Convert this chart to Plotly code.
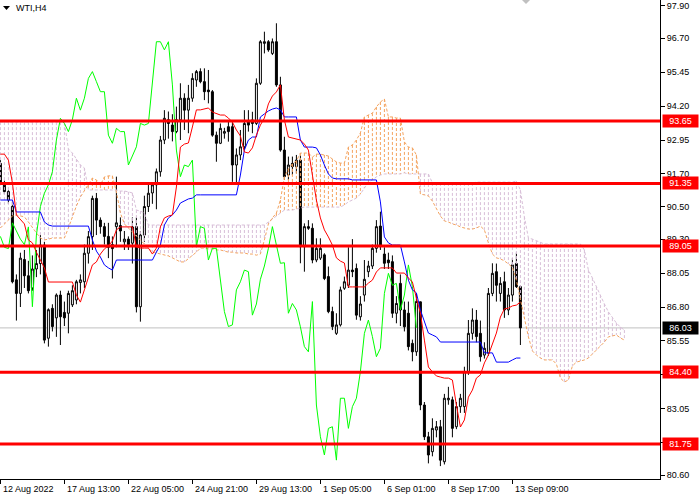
import plotly.graph_objects as go

# ---------------- data ----------------
symbol_title = "WTI,H4"
date_labels = ["12 Aug 2022", "17 Aug 13:00", "22 Aug 05:00", "24 Aug 21:00", "29 Aug 13:00",
               "1 Sep 05:00", "6 Sep 01:00", "8 Sep 17:00", "13 Sep 09:00"]
date_label_bars = [0, 16, 32, 48, 64, 80, 96, 112, 128]

price_ticks = [97.90, 96.70, 95.45, 94.20, 92.95, 91.70, 90.50, 89.30, 88.05, 86.80,
               85.55, 84.30, 83.05, 81.80, 80.60]
levels = [93.65, 91.35, 89.05, 84.40, 81.75]
last_price = 86.03
chikou_shift = 26

open_ = [92.09, 91.35, 91.05, 90.50, 87.80, 87.30, 88.55, 87.95, 87.50, 88.20,
         88.40, 89.08, 85.65, 86.75, 86.40, 87.24, 86.60, 86.57, 86.88, 87.06,
         87.70, 87.73, 88.78, 89.39, 90.80, 90.00, 89.76, 89.40, 89.10, 89.76,
         89.80, 89.20, 89.30, 89.15, 89.76, 86.81, 89.45, 90.50, 91.00, 91.30,
         91.78, 92.95, 93.70, 93.50, 93.26, 93.69, 94.49, 94.05, 94.49, 95.16,
         95.47, 95.10, 94.79, 94.73, 93.13, 92.83, 93.20, 93.44, 93.44, 92.03,
         92.40, 92.70, 93.62, 93.69, 93.56, 95.04, 96.51, 96.57, 96.14, 96.57,
         94.98, 92.58, 91.66, 92.09, 91.97, 92.21, 89.02, 89.76, 89.70, 88.53,
         88.60, 88.72, 87.92, 86.63, 85.83, 86.14, 87.49, 87.60, 88.16, 88.22,
         86.44, 87.24, 88.10, 88.31, 88.96, 89.78, 88.75, 88.53, 88.47, 86.57,
         87.67, 86.69, 86.57, 85.46, 85.15, 86.99, 83.19, 82.02, 81.47, 82.27,
         82.39, 81.10, 83.38, 83.38, 82.39, 83.13, 83.13, 84.42, 85.83, 86.32,
         85.83, 85.03, 85.10, 87.30, 88.10, 87.30, 87.73, 86.69, 87.24, 88.40,
         87.55]
high = [92.21, 91.45, 91.10, 90.68, 88.00, 88.80, 88.90, 88.50, 88.70, 88.90,
        89.45, 89.20, 86.75, 86.90, 87.30, 87.40, 87.00, 87.40, 87.60, 87.80,
        88.00, 89.10, 89.60, 90.90, 91.00, 90.10, 89.90, 89.90, 89.40, 91.60,
        90.10, 89.60, 89.40, 90.10, 90.10, 89.60, 90.90, 91.30, 91.40, 91.90,
        93.10, 94.05, 94.00, 93.90, 94.18, 95.04, 94.67, 94.98, 95.41, 95.53,
        95.59, 95.59, 95.53, 94.79, 93.26, 93.56, 93.40, 93.63, 93.63, 92.64,
        93.32, 94.05, 94.05, 93.99, 95.22, 96.63, 96.94, 96.63, 96.69, 97.25,
        95.28, 93.07, 92.34, 92.34, 92.40, 92.40, 89.88, 90.00, 89.88, 89.33,
        89.33, 88.78, 88.29, 86.81, 86.57, 87.55, 87.92, 89.00, 89.30, 88.40,
        87.20, 88.53, 88.50, 89.10, 90.00, 90.31, 89.00, 88.80, 88.70, 87.20,
        88.00, 87.00, 87.00, 85.60, 87.30, 87.00, 83.30, 82.20, 82.70, 82.60,
        82.64, 83.60, 83.86, 83.50, 83.30, 83.60, 84.60, 86.32, 86.75, 86.69,
        86.30, 85.50, 87.50, 88.41, 88.40, 87.90, 88.10, 87.50, 88.60, 88.80,
        87.60]
low = [91.29, 90.95, 90.60, 87.67, 86.30, 86.80, 87.50, 87.30, 87.40, 87.90,
       88.00, 85.46, 85.34, 85.90, 85.70, 85.40, 86.10, 85.83, 86.80, 86.90,
       87.30, 87.50, 88.40, 88.90, 89.45, 89.50, 89.10, 88.60, 87.85, 89.00,
       89.20, 88.90, 88.90, 88.40, 86.60, 86.26, 89.20, 90.30, 90.60, 90.40,
       91.60, 92.80, 93.00, 92.90, 93.20, 92.95, 93.32, 93.20, 94.36, 94.91,
       95.04, 94.42, 94.30, 93.07, 92.15, 92.80, 93.00, 92.89, 91.41, 91.35,
       92.21, 92.58, 93.26, 93.20, 93.50, 94.98, 96.14, 96.20, 96.08, 94.91,
       92.52, 91.48, 91.48, 91.66, 91.72, 88.41, 88.10, 89.64, 88.41, 88.45,
       88.53, 87.79, 86.57, 85.95, 85.77, 86.08, 87.43, 87.50, 87.90, 86.33,
       86.30, 87.00, 87.90, 88.20, 88.80, 88.90, 88.20, 88.20, 86.40, 86.20,
       86.10, 85.90, 85.20, 84.80, 85.00, 83.00, 81.90, 81.04, 81.30, 82.00,
       80.94, 81.00, 83.20, 82.00, 82.30, 82.90, 82.90, 84.30, 85.60, 85.50,
       84.79, 84.90, 85.00, 87.20, 87.00, 87.00, 86.40, 86.50, 87.00, 87.50,
       85.40]
close = [91.35, 91.05, 90.74, 87.73, 87.30, 88.60, 87.95, 87.40, 88.20, 88.40,
         89.08, 85.58, 86.70, 86.08, 87.24, 86.44, 86.40, 87.30, 87.40, 87.73,
         87.80, 88.78, 89.39, 90.80, 90.00, 89.76, 89.40, 89.00, 88.95, 89.90,
         89.60, 89.30, 89.10, 89.75, 86.81, 89.45, 90.50, 90.99, 91.30, 91.78,
         92.95, 93.75, 93.56, 93.26, 93.70, 94.49, 94.05, 94.49, 95.22, 95.47,
         95.10, 94.73, 94.73, 93.13, 92.83, 93.38, 93.26, 93.26, 92.03, 92.40,
         92.70, 93.56, 93.50, 93.56, 95.04, 96.57, 96.57, 96.27, 96.57, 94.98,
         92.58, 91.60, 92.03, 91.97, 92.21, 89.02, 89.76, 89.70, 88.53, 88.96,
         88.96, 87.85, 86.63, 86.08, 86.14, 87.43, 87.73, 88.16, 88.10, 86.50,
         86.91, 87.82, 88.31, 88.96, 89.76, 89.08, 88.41, 88.43, 86.57, 86.93,
         86.69, 86.07, 85.34, 85.15, 87.00, 83.19, 82.02, 81.35, 82.33, 82.39,
         81.16, 83.44, 83.44, 82.33, 83.13, 83.44, 84.42, 85.83, 86.32, 85.71,
         84.97, 85.28, 87.30, 88.04, 87.60, 87.67, 86.69, 87.24, 88.35, 87.55,
         86.03]

tenkan = [92.43, 92.43, 92.21, 91.37, 90.19, 90.04, 89.86, 89.27, 89.16, 88.82,
          88.53, 88.24, 87.72, 87.72, 87.72, 87.72, 87.72, 87.72, 87.72, 87.24,
          86.98, 87.43, 87.87, 88.35, 88.46, 88.75, 88.94, 89.05, 89.23, 89.64,
          89.75, 89.75, 89.75, 89.75, 89.01, 88.97, 88.97, 88.97, 88.75, 88.97,
          89.75, 90.08, 90.15, 90.19, 91.22, 92.69, 92.80, 92.84, 93.43, 94.06,
          94.06, 94.09, 94.13, 93.98, 93.91, 93.87, 93.87, 93.76, 93.61, 93.32,
          93.10, 92.51, 92.47, 92.66, 93.13, 93.50, 93.76, 94.28, 94.57, 94.72,
          94.98, 93.69, 93.06, 93.02, 92.99, 92.95, 92.80, 92.58, 91.66, 90.74,
          90.08, 89.64, 89.38, 89.08, 88.61, 88.49, 88.42, 87.54, 87.54, 87.54,
          87.54, 87.54, 87.68, 87.79, 88.09, 88.24, 88.24, 88.24, 88.24, 88.05,
          88.05, 88.05, 87.87, 87.72, 87.13, 86.58, 85.58, 84.59, 84.41, 84.26,
          84.22, 84.18, 84.18, 84.11, 83.19, 82.38, 82.64, 83.48, 83.74, 84.18,
          84.30, 84.74, 85.03, 85.40, 85.84, 86.43, 86.73, 86.76, 86.84, 86.87,
          86.98]
kijun = [90.74, 90.74, 90.74, 90.74, 90.30, 90.30, 90.30, 90.30, 90.30, 90.30,
         90.30, 89.93, 89.82, 89.78, 89.78, 89.78, 89.78, 89.78, 89.78, 89.78,
         89.78, 89.78, 89.78, 89.27, 88.86, 88.64, 88.35, 88.24, 88.16, 88.53,
         88.53, 88.53, 88.53, 88.53, 88.53, 88.53, 88.53, 88.53, 88.53, 88.82,
         89.08, 89.82, 90.08, 90.19, 90.37, 90.63, 90.70, 90.78, 90.81, 90.93,
         90.93, 90.93, 90.93, 90.93, 90.93, 90.93, 90.93, 90.93, 90.93, 90.93,
         91.66, 92.58, 92.95, 93.06, 93.06, 93.80, 93.91, 94.02, 94.09, 94.13,
         94.06, 93.80, 93.80, 93.80, 93.80, 92.95, 92.69, 92.69, 92.69, 92.66,
         92.40, 92.03, 91.70, 91.55, 91.52, 91.52, 91.52, 91.52, 91.48, 91.48,
         91.48, 91.48, 91.48, 91.48, 91.48, 90.67, 89.38, 89.16, 89.08, 89.08,
         89.08, 88.46, 87.79, 87.43, 87.32, 86.69, 86.25, 85.84, 85.77, 85.70,
         85.51, 85.51, 85.51, 85.51, 85.51, 85.51, 85.51, 85.51, 85.51, 85.51,
         85.51, 85.11, 85.11, 85.11, 84.77, 84.77, 84.77, 84.77, 84.85, 84.92,
         84.92]
span_a = [89.71, 89.86, 90.00, 90.15, 90.19, 90.15, 90.12, 89.93, 89.71, 89.53,
          89.34, 89.27, 89.30, 89.34, 89.34, 89.34, 89.34, 89.71, 90.12, 90.52,
          90.85, 91.07, 91.29, 91.55, 91.48, 91.29, 91.59, 91.63, 91.63, 91.04,
          90.26, 89.86, 89.71, 89.56, 89.41, 89.27, 89.12, 88.97, 88.82, 88.79,
          88.75, 88.71, 88.68, 88.61, 88.53, 88.46, 88.46, 88.57, 88.68, 88.82,
          88.97, 88.97, 88.94, 88.94, 88.90, 88.90, 88.86, 88.82, 88.82, 88.79,
          88.79, 88.79, 88.75, 88.75, 88.71, 88.75, 89.27, 89.86, 90.08, 90.26,
          90.74, 91.59, 91.88, 92.07, 92.18, 92.47, 92.47, 92.47, 92.32, 92.43,
          92.43, 92.40, 92.36, 92.25, 92.14, 92.10, 92.10, 92.69, 92.77, 92.95,
          93.21, 93.80, 93.87, 93.94, 94.17, 94.35, 94.46, 93.80, 93.80, 93.76,
          93.76, 92.88, 92.69, 92.66, 92.40, 90.96, 90.93, 90.89, 90.70, 90.45,
          90.15, 89.97, 89.93, 89.86, 89.82, 89.75, 89.71, 89.67, 89.67, 89.71,
          89.78, 89.64, 89.16, 88.75, 88.61, 88.57, 88.50, 88.38, 88.27, 87.79,
          87.06, 86.39, 85.70, 85.18, 85.03, 84.92, 84.85, 84.85, 84.85, 84.70,
          84.18, 84.04, 84.11, 84.63, 84.77, 84.81, 84.85, 84.92, 85.07, 85.22,
          85.36, 85.51, 85.70, 85.73, 85.77, 85.66, 85.58]
span_b = [93.61, 93.61, 93.61, 93.61, 93.61, 93.61, 93.61, 93.61, 93.61, 93.61,
          93.61, 93.61, 93.61, 93.61, 93.61, 93.61, 93.61, 92.62, 92.47, 92.25,
          92.03, 91.92, 91.11, 91.11, 91.11, 91.11, 91.11, 91.11, 91.11, 91.11,
          91.07, 91.07, 91.04, 91.00, 90.37, 90.33, 90.26, 89.82, 89.82, 89.82,
          89.82, 89.82, 89.82, 89.82, 89.82, 89.82, 89.82, 89.82, 89.82, 89.82,
          89.82, 89.82, 89.82, 89.82, 89.82, 89.82, 89.82, 89.82, 89.82, 89.82,
          89.82, 89.82, 89.82, 89.82, 89.82, 89.82, 89.82, 89.93, 90.04, 90.15,
          90.26, 90.37, 90.37, 90.37, 90.41, 90.45, 90.48, 90.48, 90.48, 90.48,
          90.48, 90.48, 90.48, 90.48, 90.48, 90.48, 90.56, 90.67, 90.74, 90.81,
          90.96, 91.18, 91.40, 91.48, 91.59, 91.66, 91.70, 91.70, 91.70, 91.70,
          91.70, 91.74, 91.70, 91.70, 91.70, 91.70, 91.70, 91.70, 91.37, 91.37,
          91.37, 91.37, 91.37, 91.37, 91.37, 91.37, 91.37, 91.37, 91.37, 91.40,
          91.40, 91.40, 91.40, 91.40, 91.40, 91.40, 91.40, 91.40, 91.40, 91.44,
          91.11, 90.12, 89.34, 89.30, 89.23, 89.19, 89.12, 89.12, 89.12, 89.12,
          89.12, 89.12, 89.12, 89.12, 89.12, 89.12, 88.90, 88.16, 87.87, 87.54,
          87.24, 86.91, 86.62, 86.39, 86.21, 86.06, 85.95]

# ---------------- derived positions ----------------
bars = list(range(len(close)))
cloud_bars = list(range(len(span_a)))
chikou_x = [b - chikou_shift for b in bars[chikou_shift:]]
chikou_y = close[chikou_shift:]

hatch_a_x, hatch_a_y, hatch_b_x, hatch_b_y = [], [], [], []
for k, a, b in zip(cloud_bars, span_a, span_b):
    if a >= b:
        hatch_a_x += [k, k, None]
        hatch_a_y += [a, b, None]
    else:
        hatch_b_x += [k, k, None]
        hatch_b_y += [b, a, None]

SANDY = "#F4A460"
THISTLE = "#D8BFD8"
FONT = "Liberation Sans"
DOT = "3px,2px"

fig = go.Figure()

fig.add_trace(go.Candlestick(
    x=bars, open=open_, high=high, low=low, close=close,
    increasing=dict(line=dict(color="black", width=1), fillcolor="white"),
    decreasing=dict(line=dict(color="black", width=1), fillcolor="black"),
    whiskerwidth=0, hoverinfo="skip", showlegend=False))

fig.add_trace(go.Scatter(x=hatch_b_x, y=hatch_b_y, mode="lines",
                         line=dict(color=THISTLE, width=1, dash=DOT), hoverinfo="skip"))
fig.add_trace(go.Scatter(x=hatch_a_x, y=hatch_a_y, mode="lines",
                         line=dict(color=SANDY, width=1, dash=DOT), hoverinfo="skip"))
fig.add_trace(go.Scatter(x=cloud_bars, y=span_b, mode="lines",
                         line=dict(color=THISTLE, width=1, dash=DOT), hoverinfo="skip"))
fig.add_trace(go.Scatter(x=cloud_bars, y=span_a, mode="lines",
                         line=dict(color=SANDY, width=1, dash=DOT), hoverinfo="skip"))
fig.add_trace(go.Scatter(x=chikou_x, y=chikou_y, mode="lines",
                         line=dict(color="#00FF00", width=1), hoverinfo="skip"))
fig.add_trace(go.Scatter(x=bars, y=kijun, mode="lines",
                         line=dict(color="#0000FF", width=1), hoverinfo="skip"))
fig.add_trace(go.Scatter(x=bars, y=tenkan, mode="lines",
                         line=dict(color="#FF0000", width=1), hoverinfo="skip"))

shapes = []
shapes.append(dict(type="line", xref="paper", x0=0, x1=1, yref="y", y0=last_price, y1=last_price,
                   line=dict(color="#C0C0C0", width=1), layer="below"))
for lv in levels:
    shapes.append(dict(type="line", xref="paper", x0=0, x1=1, yref="y", y0=lv, y1=lv,
                       line=dict(color="#FF0000", width=3), layer="above"))

PW, PH = 660.0, 479.0
# small menu triangle at top-left
shapes.append(dict(type="path", xref="paper", yref="paper",
                   path=f"M {3/PW} {1-6/PH} L {10/PW} {1-6/PH} L {6.5/PW} {1-10/PH} Z",
                   fillcolor="black", line=dict(color="black", width=0)))
# chart shift marker
shapes.append(dict(type="path", xref="paper", yref="paper",
                   path=f"M {522/PW} {1.0} L {530/PW} {1.0} L {526/PW} {1-4/PH} Z",
                   fillcolor="#C0C0C0", line=dict(color="#C0C0C0", width=0)))

annotations = []
annotations.append(dict(text=symbol_title, xref="paper", yref="paper", x=14/PW, y=1-8/PH,
                        xanchor="left", yanchor="middle", showarrow=False,
                        font=dict(family=FONT, size=9, color="black")))
for b, t in zip(date_label_bars, date_labels):
    annotations.append(dict(text=t, xref="x", yref="paper", x=b, y=0, xanchor="left",
                            yanchor="top", xshift=1, yshift=-3, showarrow=False,
                            font=dict(family=FONT, size=9, color="black")))
for lv in levels:
    annotations.append(dict(text=f"{lv:.2f}", xref="paper", yref="y", x=1, y=lv,
                            xanchor="left", yanchor="middle", xshift=2, showarrow=False,
                            bgcolor="#FF0000", width=33, height=10, borderpad=1,
                            font=dict(family=FONT, size=9, color="white")))
annotations.append(dict(text=f"{last_price:.2f}", xref="paper", yref="y", x=1, y=last_price,
                        xanchor="left", yanchor="middle", xshift=2, showarrow=False,
                        bgcolor="black", width=33, height=10, borderpad=1,
                        font=dict(family=FONT, size=9, color="white")))

fig.update_layout(
    width=700, height=500,
    margin=dict(l=0, r=40, t=0, b=21, pad=0),
    paper_bgcolor="white", plot_bgcolor="white",
    showlegend=False,
    shapes=shapes, annotations=annotations,
    xaxis=dict(range=[-0.1, 164.9], tickvals=date_label_bars, ticks="outside", ticklen=4,
               tickcolor="black", showticklabels=False, showline=True, linecolor="black",
               linewidth=1, showgrid=False, zeroline=False, rangeslider=dict(visible=False)),
    yaxis=dict(range=[80.465, 98.107], side="right", tickvals=price_ticks,
               ticktext=[f"{v:.2f}" for v in price_ticks], ticks="outside", ticklen=4,
               tickcolor="black", showline=True, linecolor="black", linewidth=1,
               showgrid=False, zeroline=False,
               tickfont=dict(family=FONT, size=9, color="black")),
)

fig.write_html("out.html",
               config={"displayModeBar": False, "staticPlot": True},
               post_script="document.body.style.margin='0';document.body.style.padding='0';"
                           "document.documentElement.style.overflow='hidden';")
